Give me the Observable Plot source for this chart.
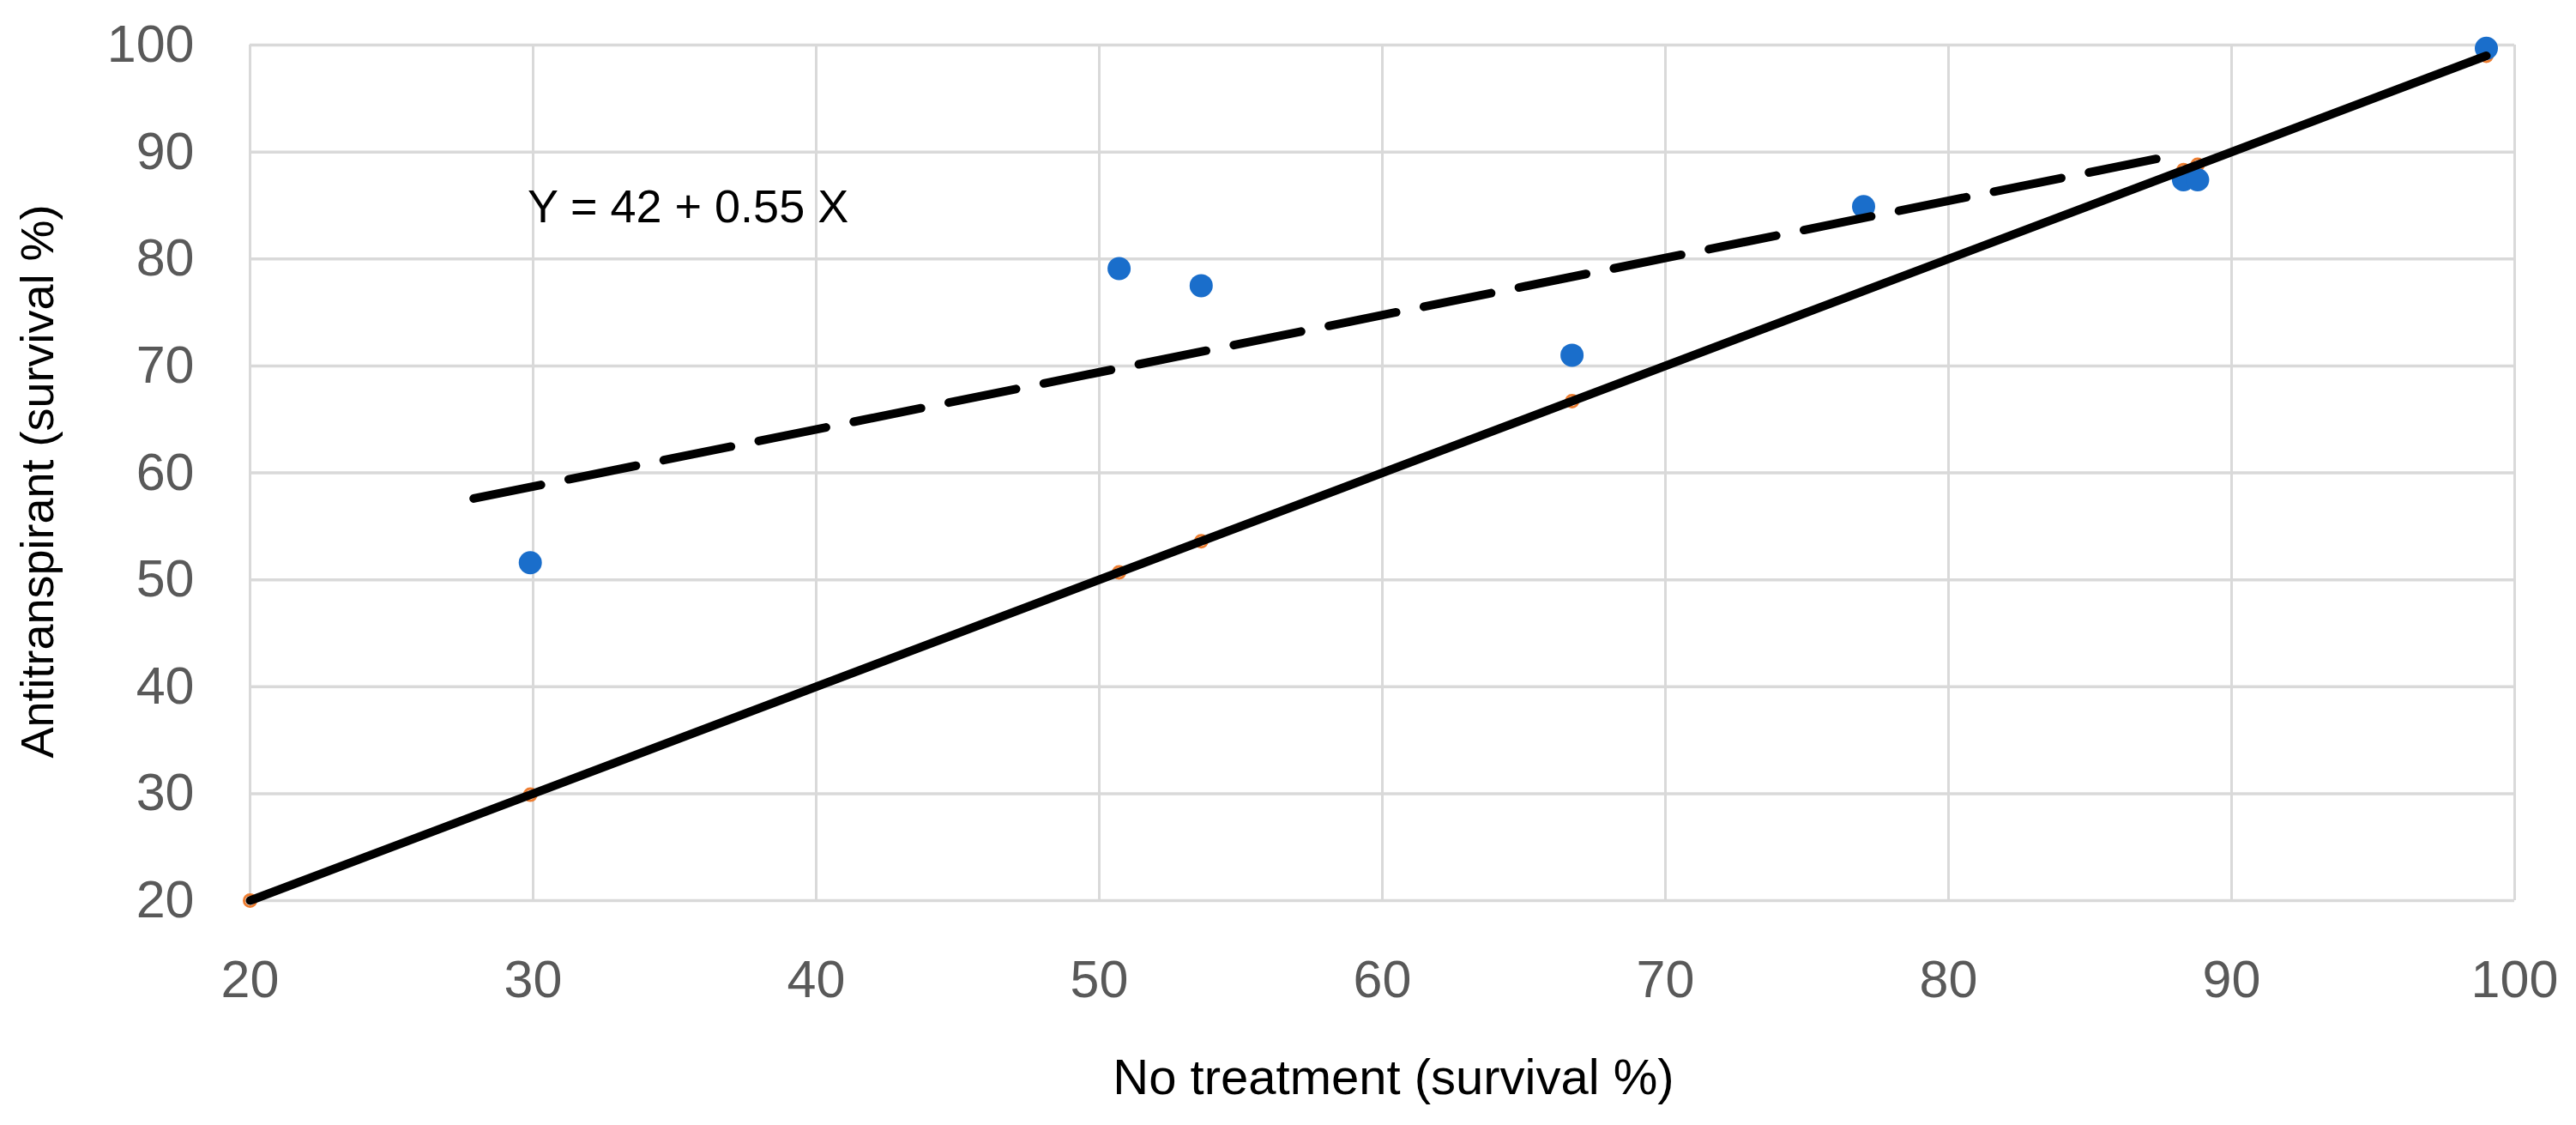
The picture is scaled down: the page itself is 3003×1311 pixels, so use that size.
<!DOCTYPE html>
<html>
<head>
<meta charset="utf-8">
<script src="https://cdn.jsdelivr.net/npm/d3@7"></script>
<script src="https://cdn.jsdelivr.net/npm/@observablehq/plot@0.6"></script>
<style>
  html, body { margin: 0; padding: 0; background: #ffffff; }
  #chart svg { display: block; }
</style>
</head>
<body>
<div id="chart"></div>
<script>
// ---- Data ----
const noTreatment     = [29.9, 50.7, 53.6, 66.7, 77.0, 88.3, 88.8, 99.0];
const antitranspirant = [51.6, 79.1, 77.5, 71.0, 84.9, 87.4, 87.4, 99.7];
const oneToOneX       = [20, 29.9, 50.7, 53.6, 66.7, 88.3, 88.8, 99.0];
const identityX       = [20, 99];
const identityY       = [20, 99];
const trendX          = [27.9, 87.8];
const trendY          = [57.6, 89.6];
const xTicks          = [20, 30, 40, 50, 60, 70, 80, 90, 100];
const yTicks          = [20, 30, 40, 50, 60, 70, 80, 90, 100];
const equationLabel   = ["Y = 42 + 0.55 X"];
const equationPos     = [29.8, 84.8];
const xTitle          = ["No treatment (survival %)"];
const yTitle          = ["Antitranspirant (survival %)"];

// ---- Tables built from arrays ----
const points   = noTreatment.map((x, i) => ({x, y: antitranspirant[i]}));
const oneToOne = oneToOneX.map(x => ({x, y: x}));
const identity = identityX.map((x, i) => ({x, y: identityY[i]}));
const trend    = trendX.map((x, i) => ({x, y: trendY[i]}));
const equation = equationLabel.map(text => ({text, x: equationPos[0], y: equationPos[1]}));

const FONT = "'Liberation Sans', Arial, sans-serif";

const chart = Plot.plot({
  width: 3003,
  height: 1311,
  marginLeft: 291,
  marginRight: 72,
  marginTop: 52,
  marginBottom: 262,
  style: {fontFamily: FONT, background: "#ffffff", overflow: "visible"},
  x: {domain: [20, 100], ticks: xTicks},
  y: {domain: [20, 100], ticks: yTicks},
  marks: [
    Plot.gridX(xTicks, {stroke: "#d9d9d9", strokeOpacity: 1, strokeWidth: 3}),
    Plot.gridY(yTicks, {stroke: "#d9d9d9", strokeOpacity: 1, strokeWidth: 3.5}),
    Plot.axisX(xTicks, {
      tickSize: 0, tickPadding: 69, label: null,
      fontSize: 61, fill: "#595959", tickFormat: d => String(d)
    }),
    Plot.axisY(yTicks, {
      tickSize: 0, tickPadding: 65, label: null,
      fontSize: 61, fill: "#595959", tickFormat: d => String(d)
    }),
    Plot.dot(oneToOne, {x: "x", y: "y", r: 7, stroke: "#ED7D31", strokeWidth: 3, fill: "none"}),
    Plot.dot(points, {x: "x", y: "y", r: 13.5, fill: "#1a6ecb", stroke: "none"}),
    Plot.line(identity, {x: "x", y: "y", stroke: "#000000", strokeWidth: 10}),
    Plot.line(trend, {x: "x", y: "y", stroke: "#000000", strokeWidth: 10, strokeDasharray: "80,33"}),
    Plot.text(equation, {
      x: "x", y: "y", text: "text", textAnchor: "start", lineAnchor: "middle",
      fontSize: 54, fill: "#000000"
    }),
    Plot.text(xTitle, {
      text: d => d, frameAnchor: "bottom", textAnchor: "middle", lineAnchor: "middle",
      dy: 207, dx: 13, fontSize: 58, fill: "#000000"
    }),
    Plot.text(yTitle, {
      text: d => d, frameAnchor: "left", textAnchor: "middle", lineAnchor: "middle", rotate: -90,
      dx: -247, dy: 10, fontSize: 54, fill: "#000000"
    })
  ]
});

document.getElementById("chart").appendChild(chart);
</script>
</body>
</html>
